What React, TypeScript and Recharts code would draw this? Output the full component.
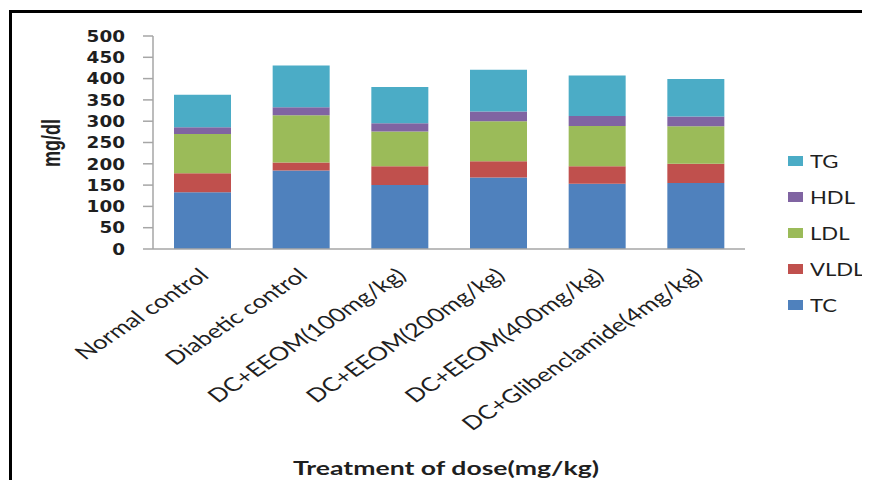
import React from "react";
import { Bar, BarChart, Legend, XAxis, YAxis } from "recharts";

// Lipid profile per treatment group (mg/dl)
const categories = [
  "Normal control",
  "Diabetic control",
  "DC+EEOM(100mg/kg)",
  "DC+EEOM(200mg/kg)",
  "DC+EEOM(400mg/kg)",
  "DC+Glibenclamide(4mg/kg)",
];
const tcValues = [133, 184, 150, 168, 153, 155];
const vldlValues = [45, 19, 44, 38, 41, 45];
const ldlValues = [92, 111, 82, 94, 95, 88];
const hdlValues = [16, 19, 19, 23, 23, 23];
const tgValues = [76, 98, 85, 98, 95, 88];
const yTicks = [0, 50, 100, 150, 200, 250, 300, 350, 400, 450, 500];

const series = [
  { key: "TC", color: "#4F81BD", values: tcValues },
  { key: "VLDL", color: "#C0504D", values: vldlValues },
  { key: "LDL", color: "#9BBB59", values: ldlValues },
  { key: "HDL", color: "#8064A2", values: hdlValues },
  { key: "TG", color: "#4BACC6", values: tgValues },
];

const data = categories.map((name, i) => {
  const row: Record<string, string | number> = { name };
  series.forEach((s) => {
    row[s.key] = s.values[i];
  });
  return row;
});

const TEXT = "#1f1f1f";

function CategoryTick({ x, y, payload }: any) {
  return (
    <text
      transform={`translate(${x + 8},${y + 20}) scale(1.35,1) rotate(-42)`}
      textAnchor="end"
      fontFamily="Lato, 'Open Sans', sans-serif"
      fontSize={19}
      fill={TEXT}
    >
      {payload.value}
    </text>
  );
}

function ValueTick({ x, y, payload }: any) {
  return (
    <text
      transform={`translate(${x},${y}) scale(1.15,1)`}
      textAnchor="end"
      dy="0.36em"
      fontFamily="'DejaVu Sans', Verdana, sans-serif"
      fontWeight="bold"
      fontSize={16}
      fill={TEXT}
    >
      {payload.value}
    </text>
  );
}

function LegendList() {
  const items = [...series].reverse();
  return (
    <div>
      {items.map((s) => (
        <div key={s.key} style={{ height: 36, display: "flex", alignItems: "center" }}>
          <span style={{ display: "inline-block", width: 15, height: 10, background: s.color }} />
          <span
            style={{
              display: "inline-block",
              marginLeft: 7,
              fontFamily: "Lato, 'Open Sans', sans-serif",
              fontSize: 17,
              color: TEXT,
              transform: "scaleX(1.3)",
              transformOrigin: "left center",
            }}
          >
            {s.key}
          </span>
        </div>
      ))}
    </div>
  );
}

export default function App() {
  return (
    <div style={{ position: "relative", width: 862, height: 472, overflow: "hidden", background: "#fff" }}>
      <div
        style={{
          position: "absolute",
          left: 1,
          top: 2,
          width: 900,
          height: 520,
          border: "3px solid #000",
        }}
      />
      <div style={{ position: "absolute", left: 0, top: 0 }}>
        <BarChart
          width={862}
          height={472}
          data={data}
          margin={{ top: 28, right: 35, bottom: 0, left: 0 }}
          barSize={57}
        >
          <XAxis
            dataKey="name"
            interval={0}
            tickLine={false}
            axisLine={{ stroke: "#a6a6a6", strokeWidth: 1.5 }}
            tick={<CategoryTick />}
            height={231}
          />
          <YAxis
            width={145}
            domain={[0, 500]}
            ticks={yTicks}
            interval={0}
            tickSize={10}
            tickMargin={18}
            tickLine={{ stroke: "#a6a6a6", strokeWidth: 1.5 }}
            axisLine={{ stroke: "#a6a6a6", strokeWidth: 1.5 }}
            tick={<ValueTick />}
          />
          <Legend
            layout="vertical"
            align="right"
            verticalAlign="top"
            content={<LegendList />}
            wrapperStyle={{ left: 780, top: 135, width: 90 }}
          />
          {series.map((s) => (
            <Bar key={s.key} dataKey={s.key} stackId="lipids" fill={s.color} isAnimationActive={false} />
          ))}
        </BarChart>
      </div>
      <svg width={862} height={472} style={{ position: "absolute", left: 0, top: 0, pointerEvents: "none" }}>
        <text
          transform="translate(43,135) scale(1.4,1) rotate(-90)"
          textAnchor="middle"
          dy="0.35em"
          fontFamily="'Liberation Sans', Arial, sans-serif"
          fontWeight="bold"
          fontSize={18}
          fill={TEXT}
        >
          mg/dl
        </text>
        <text
          transform="translate(438,467) scale(1.4,1)"
          textAnchor="middle"
          fontFamily="Lato, 'Open Sans', sans-serif"
          fontWeight="bold"
          fontSize={19}
          fill={TEXT}
        >
          Treatment of dose(mg/kg)
        </text>
      </svg>
    </div>
  );
}
